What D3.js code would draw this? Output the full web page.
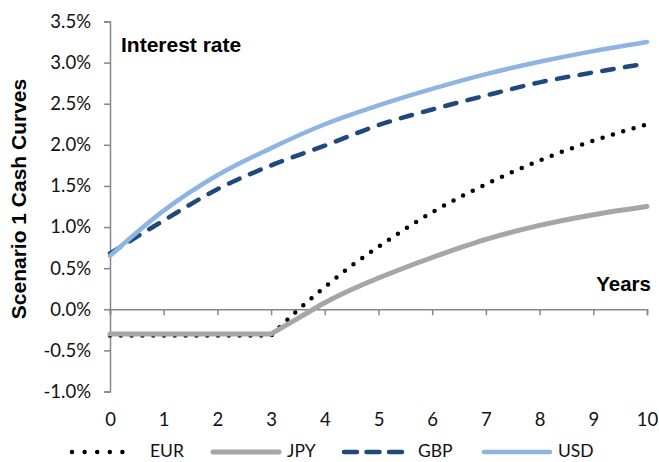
<!DOCTYPE html>
<html>
<head>
<meta charset="utf-8">
<script src="https://cdn.jsdelivr.net/npm/d3@7"></script>
<style>
  html, body { margin: 0; padding: 0; background: #fff; }
  svg { display: block; }
</style>
</head>
<body>
<svg id="chart" width="659" height="462"></svg>
<script>
// ---- data ----
const years = [0, 1, 2, 3, 4, 5, 6, 7, 8, 9, 10];
const usdValues = [0.65, 1.20, 1.63, 1.96, 2.25, 2.48, 2.68, 2.86, 3.01, 3.14, 3.25];
const gbpValues = [0.68, 1.08, 1.46, 1.75, 1.99, 2.24, 2.43, 2.60, 2.76, 2.88, 2.99];
const eurYears = [0, 3, 3.5, 4, 4.5, 5, 6, 7, 8, 9, 10];
const eurValues = [-0.32, -0.32, -0.01, 0.27, 0.53, 0.76, 1.18, 1.52, 1.81, 2.05, 2.25];
const jpyYears = [0, 3, 3.5, 4, 4.5, 5, 6, 7, 8, 9, 10];
const jpyValues = [-0.30, -0.30, -0.11, 0.08, 0.24, 0.38, 0.63, 0.85, 1.02, 1.15, 1.25];
const yTicks = [-1.0, -0.5, 0.0, 0.5, 1.0, 1.5, 2.0, 2.5, 3.0, 3.5];
const xTicks = [0, 1, 2, 3, 4, 5, 6, 7, 8, 9, 10];
const seriesNames = ["EUR", "JPY", "GBP", "USD"];
const titleText = "Interest rate";
const xTitle = "Years";
const yTitle = "Scenario 1 Cash Curves";

// ---- layout ----
const svg = d3.select("#chart");
const x = d3.scaleLinear().domain([0, 10]).range([110, 647]);
const y = d3.scaleLinear().domain([-1, 3.5]).range([391.5, 21.5]);
const axisColor = "#868686";
const tickFont = "Lato, 'Open Sans', sans-serif";
const boldFont = "'Liberation Sans', Arial, sans-serif";

// y axis
const yAxis = svg.append("g").attr("transform", `translate(${x(0)},0)`)
  .call(d3.axisLeft(y).tickValues(yTicks).tickSize(6).tickPadding(13)
    .tickFormat(d => d3.format(".1f")(d).replace("\u2212", "-") + "%"));
yAxis.select(".domain").attr("stroke", axisColor).attr("stroke-width", 1.5);
yAxis.selectAll(".tick line").attr("stroke", axisColor).attr("stroke-width", 1.5);
yAxis.selectAll("text").attr("font-family", tickFont).attr("font-size", 18.5).attr("fill", "#111");

// x axis line at 0 with ticks
const xAxis = svg.append("g").attr("transform", `translate(0,${y(0)})`)
  .call(d3.axisBottom(x).tickValues(xTicks).tickSize(6).tickFormat(""));
xAxis.select(".domain").attr("stroke", axisColor).attr("stroke-width", 1.5);
xAxis.selectAll(".tick line").attr("stroke", axisColor).attr("stroke-width", 1.5);

// x labels at bottom
const xLab = svg.append("g").attr("transform", `translate(0,${y(-1)})`)
  .call(d3.axisBottom(x).tickValues(xTicks).tickSize(0).tickPadding(21).tickFormat(d3.format("d")));
xLab.select(".domain").remove();
xLab.selectAll("text").attr("font-family", tickFont).attr("font-size", 18.5).attr("fill", "#111");

// ---- lines ----
const lineMono = d3.line().x(d => x(d[0])).y(d => y(d[1])).curve(d3.curveMonotoneX);
const lineLin = d3.line().x(d => x(d[0])).y(d => y(d[1]));

function kinkedPath(xs, vs) {
  const pts = xs.map((v, i) => [v, vs[i]]);
  const flat = pts.filter(p => p[0] <= 3);
  const rise = pts.filter(p => p[0] >= 3);
  return lineLin(flat) + lineMono(rise).replace(/^M/, "L");
}

const styles = {
  EUR: { color: "#000000", width: 4.5, dash: "0 10.8", cap: "round" },
  JPY: { color: "#A6A6A6", width: 5, dash: null, cap: "round" },
  GBP: { color: "#1F497D", width: 4.5, dash: "11.5 11.5", cap: "round" },
  USD: { color: "#8DB4E2", width: 4.5, dash: null, cap: "round" }
};

const paths = {
  EUR: kinkedPath(eurYears, eurValues),
  JPY: kinkedPath(jpyYears, jpyValues),
  GBP: lineMono(years.map((v, i) => [v, gbpValues[i]])),
  USD: lineMono(years.map((v, i) => [v, usdValues[i]]))
};

seriesNames.forEach(name => {
  const s = styles[name];
  svg.append("path")
    .attr("d", paths[name])
    .attr("fill", "none")
    .attr("stroke", s.color)
    .attr("stroke-width", s.width)
    .attr("stroke-linecap", s.cap)
    .attr("stroke-linejoin", "round")
    .attr("stroke-dasharray", s.dash);
});

// ---- titles ----
svg.append("text").attr("x", 121).attr("y", 52.3)
  .attr("font-family", boldFont).attr("font-weight", "bold").attr("font-size", 21)
  .attr("fill", "#000").text(titleText);
svg.append("text").attr("x", 651).attr("y", 290.7).attr("text-anchor", "end")
  .attr("font-family", boldFont).attr("font-weight", "bold").attr("font-size", 20.5)
  .attr("fill", "#000").text(xTitle);
svg.append("text")
  .attr("transform", "translate(25.5,199) rotate(-90)")
  .attr("text-anchor", "middle")
  .attr("font-family", boldFont).attr("font-weight", "bold").attr("font-size", 21)
  .attr("fill", "#000").text(yTitle);

// ---- legend ----
const legendY = 450;
const legendItems = [
  { name: "EUR", x0: 72, x1: 135, tx: 150, dash: "0 12.6" },
  { name: "JPY", x0: 213, x1: 279, tx: 287, dash: null },
  { name: "GBP", x0: 344, x1: 402, tx: 418, dash: "13 9.5" },
  { name: "USD", x0: 484, x1: 550, tx: 558, dash: null }
];
legendItems.forEach(it => {
  const s = styles[it.name];
  svg.append("line")
    .attr("x1", it.x0).attr("x2", it.x1).attr("y1", legendY + 2).attr("y2", legendY + 2)
    .attr("stroke", s.color).attr("stroke-width", s.width)
    .attr("stroke-linecap", "round")
    .attr("stroke-dasharray", it.dash);
  svg.append("text").attr("x", it.tx).attr("y", legendY)
    .attr("dominant-baseline", "central")
    .attr("font-family", tickFont).attr("font-size", 17.5).attr("fill", "#111")
    .text(it.name);
});
</script>
</body>
</html>
